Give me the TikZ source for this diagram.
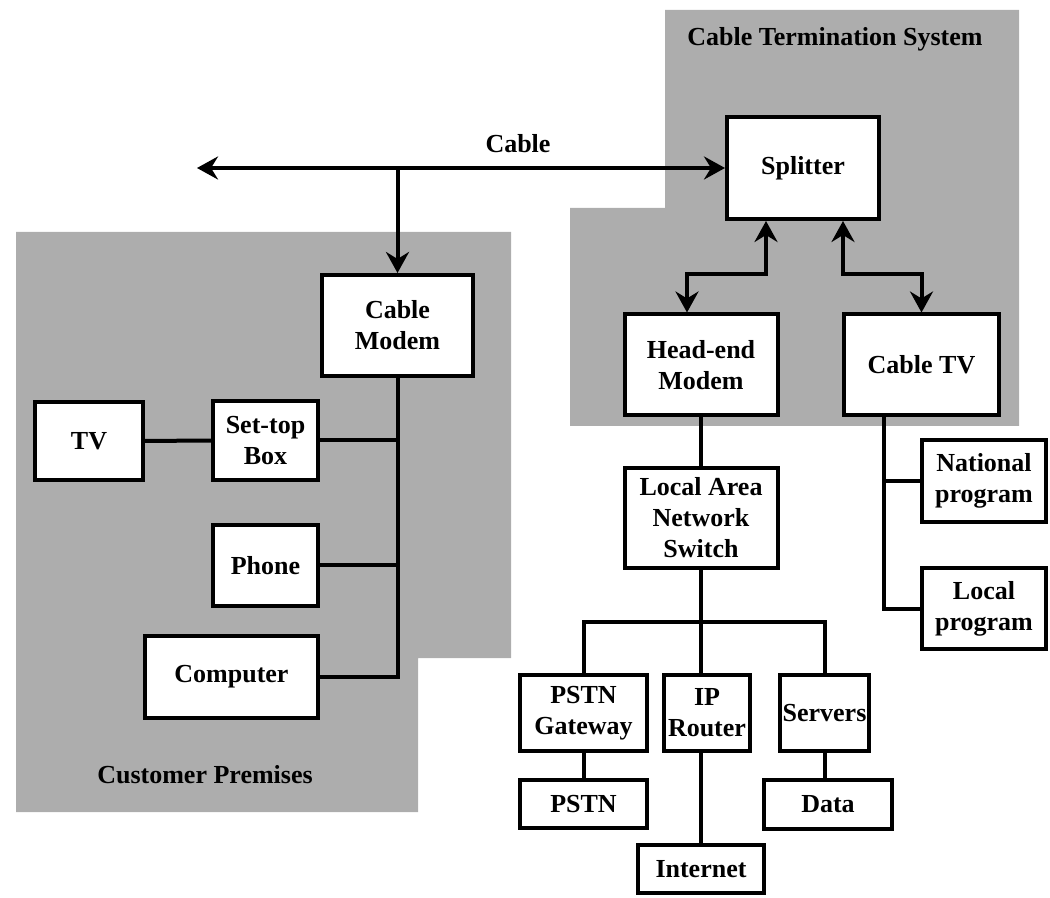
\documentclass[tikz,border=0pt]{standalone}
\usepackage{fontspec}
\setmainfont{Liberation Serif}
\usetikzlibrary{arrows.meta}
\definecolor{zonegray}{RGB}{173,173,173}
\begin{document}
\begin{tikzpicture}[x=0.5pt,y=-0.5pt,
        >={Stealth[length=10.5pt,width=11.5pt,inset=3.5pt]},
        base/.style={draw,fill=white,line width=2pt,inner sep=1pt,align=center,
            font=\fontsize{13}{15.5}\selectfont\bfseries},
        boxsize/.style 2 args={minimum width=#1pt,minimum height=#2pt},
        zone/.style={fill=zonegray},
        caption/.style={font=\fontsize{13}{15.5}\selectfont\bfseries},
        wire/.style={line width=2pt,line join=miter}]
    \useasboundingbox (0,0) rectangle (1050,898);
    % Shaded areas
    \fill[zone] (16,232) -- (511,232) -- (511,658) -- (418,658) -- (418,812) -- (16,812) -- cycle;
    \fill[zone] (665,10) -- (1019,10) -- (1019,426) -- (570,426) -- (570,208) -- (665,208) -- cycle;
    \node[caption] (cpl) at (205,775) {Customer Premises};
    \node[caption] (ctsl) at (835,39) {Cable Termination System};
    % Customer premises
    \node[base,boxsize={75.5}{50.5}] (modem) at (397.5,325.5) {Cable\\Modem};
    \node[base,boxsize={54}{39}] (tv) at (89,441) {TV};
    \node[base,boxsize={52.5}{39.5}] (stb) at (265.5,440.5) {Set-top\\Box};
    \node[base,boxsize={52.5}{40.5}] (phone) at (265.5,565.5) {Phone};
    \node[base,boxsize={86.5}{41}] (pc) at (231.5,677) {Computer};
    % Termination system
    \node[base,boxsize={76}{51}] (splitter) at (803,168) {Splitter};
    \node[base,boxsize={76.5}{50.5}] (hem) at (701,365) {Head-end\\Modem};
    \node[base,boxsize={77.5}{50.5}] (ctv) at (921.5,365) {Cable TV};
    % Network side
    \node[base,boxsize={76.5}{50}] (lan) at (701,518) {Local Area\\Network\\Switch};
    \node[base,boxsize={63.5}{38}] (gw) at (583.5,713) {PSTN\\Gateway};
    \node[base,boxsize={43}{38}] (router) at (707,713) {IP\\Router};
    \node[base,boxsize={44.5}{38}] (servers) at (824.5,713) {Servers};
    \node[base,boxsize={63.5}{24}] (pstn) at (583.5,804) {PSTN};
    \node[base,boxsize={64}{24.5}] (data) at (828,804.5) {Data};
    \node[base,boxsize={63}{24}] (inet) at (701,869) {Internet};
    \node[base,boxsize={62}{41}] (natl) at (984,481) {National\\program};
    \node[base,boxsize={62}{40.5}] (localp) at (984,608.5) {Local\\program};
    % Cable
    \coordinate (cableend) at (197,168);
    \coordinate (tap) at (modem.north |- splitter.west);
    \draw[wire,<->] (cableend) -- (splitter.west);
    \draw[wire,->] (tap) -- (modem.north);
    \node[caption] (cablel) at (518,144) {Cable};
    % Customer bus
    \coordinate (busend) at (modem.south |- pc.east);
    \draw[wire] (modem.south) -- (busend) -- (pc.east);
    \draw[wire] (tv) -- (stb);
    \draw[wire] (stb.east) -- (stb.east -| busend);
    \draw[wire] (phone.east) -- (phone.east -| busend);
    % Splitter outputs
    \draw[wire,<->] ([xshift=-18.5pt]splitter.south) -- ++(0,53) -| ([xshift=-7pt]hem.north);
    \draw[wire,<->] ([xshift=20pt]splitter.south) -- ++(0,53) -| (ctv.north);
    % Head-end side
    \coordinate (lanbus) at (lan.south |- 0,622);
    \draw[wire] (hem) -- (lan);
    \draw[wire] (gw.north) |- (lanbus) -| (servers.north);
    \draw[wire] (lan.south) -- (lan.south |- router.north);
    \draw[wire] (router.south -| inet.north) -- (inet.north);
    \draw[wire] (gw) -- (pstn);
    \draw[wire] (servers.south) -- (servers.south |- data.north);
    % Cable TV side
    \coordinate (tvbus) at ([xshift=-19pt]ctv.south);
    \draw[wire] (tvbus) |- (localp.west);
    \draw[wire] (natl.west) -- (natl.west -| tvbus);
\end{tikzpicture}
\end{document}
